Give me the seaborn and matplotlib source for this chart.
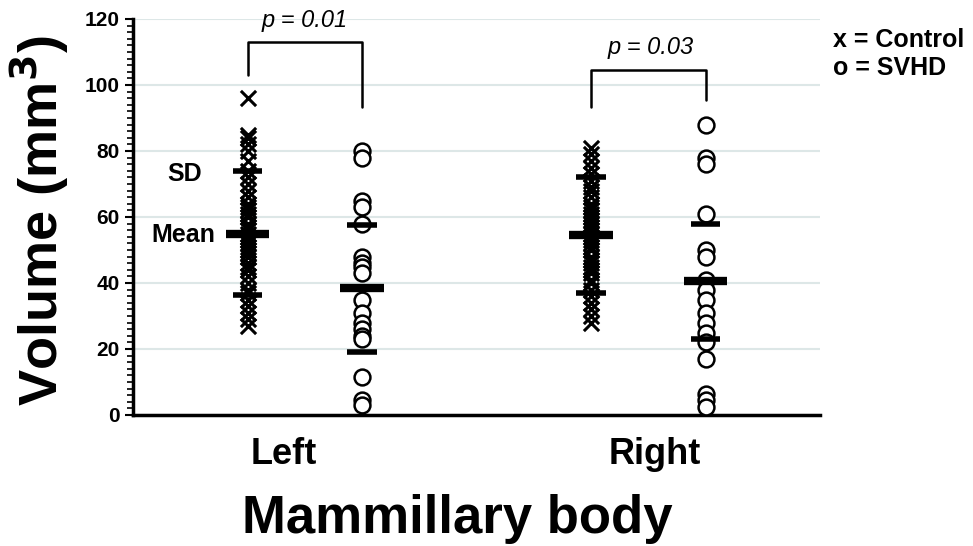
import numpy as np
import pandas as pd
import matplotlib
matplotlib.use("Agg")
import matplotlib.pyplot as plt
import seaborn as sns
from matplotlib.ticker import MultipleLocator

# Values (mm^3)
left_control = [96, 85, 84, 82, 80, 77, 74, 72, 70, 68, 66, 64, 63, 62, 61, 60, 58, 57, 56,
                55, 54, 53, 52, 51, 50, 49, 48, 46, 45, 44, 42, 40, 38, 37, 35, 33, 31, 29, 27]
left_svhd = [80, 78, 65, 63, 58, 48, 46, 45, 43, 35, 31, 28, 26, 24, 23, 11.5, 4.5, 3]
right_control = [81, 79, 77, 75, 73, 71, 69, 68, 66, 64, 63, 62, 61, 60, 59, 58, 57, 56, 55,
                 54, 53, 52, 51, 50, 48, 47, 46, 45, 44, 43, 41, 40, 38, 36, 34, 32, 30, 28]
right_svhd = [88, 78, 76, 61, 50, 48, 41, 38, 35, 31, 28, 25, 22, 17, 6.5, 4.5, 2.5]

# Group summary markers (Left-Control, Left-SVHD, Right-Control, Right-SVHD)
group_pos = [1, 2, 4, 5]
mean_vals = [55, 38.5, 54.5, 40.5]
sd_hi = [74, 57.5, 72, 58]
sd_lo = [36.5, 19, 37, 23]

p_texts = ["p = 0.01", "p = 0.03"]
side_labels = ["Left", "Right"]

# long table
rows = []
for pos, grp, vals in zip(group_pos, ["Control", "SVHD", "Control", "SVHD"],
                          [left_control, left_svhd, right_control, right_svhd]):
    for v in vals:
        rows.append({"pos": pos, "group": grp, "volume": v})
df = pd.DataFrame(rows)

sns.set_style("white")
plt.rcParams['font.family'] = ['Liberation Sans', 'DejaVu Sans']
plt.rcParams['text.color'] = 'black'
plt.rcParams['axes.labelcolor'] = 'black'
plt.rcParams['xtick.color'] = 'black'
plt.rcParams['ytick.color'] = 'black'

fig = plt.figure(figsize=(9.73, 5.46), dpi=100)
ax = fig.add_axes([133/973, 131/546, 687/973, 396/546])

ax.grid(axis='y', color='#dde7e7', linewidth=1.5, zorder=0)
ax.set_axisbelow(True)

sns.scatterplot(data=df[df.group == "Control"], x="pos", y="volume", marker="x",
                color="black", s=120, linewidth=2.2, ax=ax, legend=False, zorder=3)
sns.scatterplot(data=df[df.group == "SVHD"], x="pos", y="volume", marker="o",
                facecolor="white", edgecolor="black", s=130, linewidth=1.8, ax=ax,
                legend=False, zorder=3)

# mean and SD bars
for x, m, hi, lo in zip(group_pos, mean_vals, sd_hi, sd_lo):
    ax.hlines(m, x - 0.19, x + 0.19, color="black", linewidth=6, zorder=4)
    ax.hlines([hi, lo], x - 0.13, x + 0.13, color="black", linewidth=4, zorder=4)

# significance brackets
ax.plot([1, 1, 2, 2], [103, 113, 113, 93.3], color="black", lw=1.8, clip_on=False)
ax.text(1.5, 119.5, p_texts[0], ha="center", va="center", style="italic", fontsize=17)
ax.plot([4, 4, 5, 5], [93.3, 104.5, 104.5, 95.5], color="black", lw=1.8, clip_on=False)
ax.text(4.52, 111.5, p_texts[1], ha="center", va="center", style="italic", fontsize=17)

ax.text(0.45, 73, "SD", ha="center", va="center", fontsize=18, fontweight="bold")
ax.text(0.44, 54.5, "Mean", ha="center", va="center", fontsize=18, fontweight="bold")

ax.set_xlim(0, 6)
ax.set_ylim(0, 120)
ax.yaxis.set_major_locator(MultipleLocator(20))
ax.yaxis.set_minor_locator(MultipleLocator(2))
ax.tick_params(axis='y', which='major', left=True, length=6, width=1.5, labelsize=15)
ax.tick_params(axis='y', which='minor', left=True, length=4, width=1.2)
for lbl in ax.get_yticklabels():
    lbl.set_fontweight("bold")

ax.set_xticks([1.32, 4.56])
ax.set_xticklabels(side_labels, fontsize=26, fontweight="bold")
ax.tick_params(axis='x', length=0, pad=16)

for s in ["top", "right"]:
    ax.spines[s].set_visible(False)
ax.spines["left"].set_linewidth(2.5)
ax.spines["bottom"].set_linewidth(2.5)
ax.spines["left"].set_color("black")
ax.spines["bottom"].set_color("black")

ax.set_xlabel("Mammillary body", fontsize=38, fontweight="bold")
ax.xaxis.set_label_coords((457 - 133) / 687, -0.2)
ax.set_ylabel("Volume (mm$^{\\mathbf{3}}$)", fontsize=39, fontweight="bold")
ax.yaxis.set_label_coords(-0.09, 0.49)

fig.text(833/973, 1 - 40/546, "x = Control", fontsize=18, fontweight="bold", va="center")
fig.text(833/973, 1 - 68/546, "o = SVHD", fontsize=18, fontweight="bold", va="center")

fig.savefig("out.png", dpi=100, facecolor="white")
